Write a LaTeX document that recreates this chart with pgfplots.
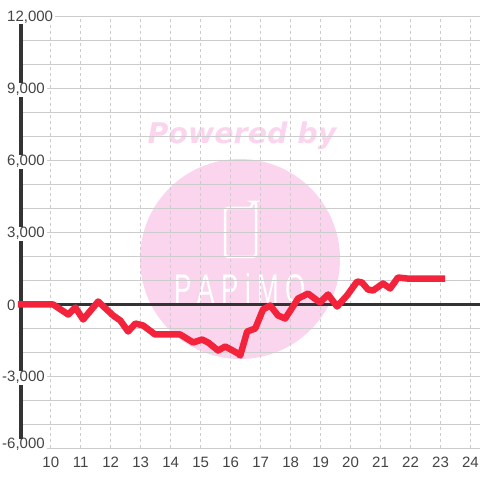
\documentclass[border=0pt]{standalone}
\usepackage{fontspec}
\setmainfont{Liberation Sans}
\newfontfamily\wmfont[BoldFeatures={FakeBold=3}]{DejaVu Sans}
\usepackage{pgfplots}
\pgfplotsset{compat=1.18}
\definecolor{wm}{HTML}{FBD5EE}
\definecolor{gridc}{HTML}{CCCCCC}
\definecolor{axc}{HTML}{333333}
\definecolor{txt}{HTML}{444444}
\definecolor{redl}{HTML}{F2233B}
\begin{document}
\begin{tikzpicture}[x=1pt,y=1pt]
\path[use as bounding box] (0,0) rectangle (480,480);
% watermark, sits under the grid
\fill[wm] (240,221) circle (100);
\node[text=wm,font=\wmfont\fontsize{28.5}{30}\selectfont\bfseries\itshape] at (242,344.5) {Powered by};
\draw[white,line width=2.5pt,rounded corners=3pt] (225,272) -- (225,223) -- (256,223) -- (256,278) -- (252,278) -- (252,272) -- cycle;
\node[text=white,font=\fontsize{36}{36}\selectfont,xscale=0.72,yscale=1.15] at (240,191) {P\kern9pt A\kern9pt P\kern9pt i\kern9pt M\kern9pt O};
\begin{axis}[
  at={(20.8pt,31.5pt)},anchor=south west,
  scale only axis,width=459.2pt,height=432pt,
  xmin=9,xmax=24.317,ymin=-6000,ymax=12000,
  clip=false,
  axis line style={draw=none},
  major tick length=0pt,minor tick length=0pt,
  xtick={10,...,24},
  ytick={-6000,-3000,0,3000,6000,9000,12000},
  scaled y ticks=false,
  yticklabels={{\raisebox{6pt}[\height][0pt]{\llap{-}6,000}},{\llap{-}3,000},{0},{3,000},{6,000},{9,000},{12,000}},
  minor ytick={-5000,-4000,-2000,-1000,1000,2000,4000,5000,7000,8000,10000,11000},
  xmajorgrids,ymajorgrids,yminorgrids,
  x grid style={gridc,dash pattern=on 3pt off 3pt,line width=1pt},
  y grid style={gridc,line width=1pt},
  minor y grid style={gridc,line width=1pt},
  tick label style={font=\fontsize{15}{18}\selectfont,text=txt},
  /pgf/number format/assume math mode=true,
  xticklabel style={anchor=center,yshift=-14pt},
  yticklabel style={anchor=west,xshift=-15.8pt,yshift=-0.8pt,fill=white,inner xsep=2pt,inner ysep=1pt},
  unbounded coords=jump,
]
\addplot[axc,line width=3pt] coordinates {(9,0) (24.317,0)};
% left axis line, broken where the labels sit on it
\addplot[axc,line width=4pt] coordinates {(9,11667) (9,9210) (9,nan) (9,8640) (9,6210) (9,nan) (9,5640)
 (9,3210) (9,nan) (9,2640) (9,-2790) (9,nan) (9,-3360) (9,-5600)};
\addplot[redl,line width=6.5pt,line join=round] coordinates {
(8.9,0) (10.08,0) (10.58,-417) (10.82,-125) (11.08,-625) (11.58,125)
(12.08,-458) (12.32,-667) (12.58,-1125) (12.82,-792) (13.08,-875) (13.48,-1250)
(14.32,-1250) (14.75,-1583) (15.05,-1458) (15.25,-1583) (15.58,-1917) (15.82,-1750)
(16.25,-2042) (16.32,-2125) (16.55,-1125) (16.82,-1000) (17.08,-208) (17.32,-42)
(17.58,-458) (17.82,-583) (18.25,250) (18.58,458) (18.98,83) (19.25,417)
(19.55,-83) (19.88,375) (20.22,958) (20.38,917) (20.58,625) (20.75,583)
(21.08,875) (21.32,667) (21.58,1125) (21.88,1083) (23.15,1083)};
\end{axis}
\end{tikzpicture}
\end{document}
